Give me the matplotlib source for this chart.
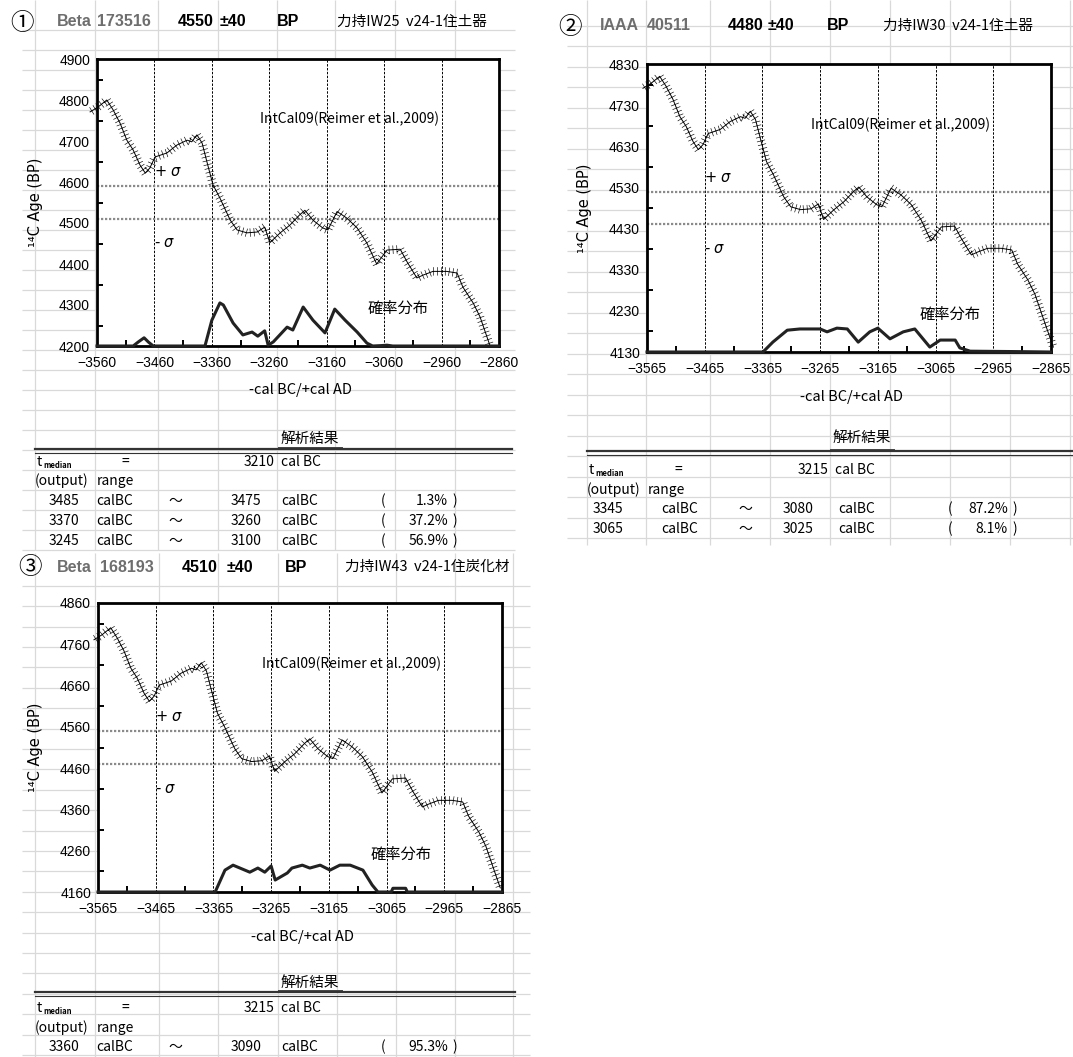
import numpy as np
import matplotlib
matplotlib.use('Agg')
import matplotlib.pyplot as plt
from matplotlib import patheffects as pe
from matplotlib import font_manager
from matplotlib.ticker import FixedLocator

W, H = 1073, 1057

# IntCal09 (Reimer et al., 2009): cal BC as negative years, 14C age BP
cal_year = [-3572, -3558, -3543, -3532, -3520, -3508, -3497, -3485, -3476, -3468,
            -3459, -3438, -3421, -3403, -3395, -3386, -3377, -3368, -3358, -3346,
            -3328, -3316, -3299, -3281, -3268, -3259, -3241, -3224, -3207, -3198,
            -3184, -3167, -3158, -3142, -3125, -3107, -3090, -3073, -3064, -3055,
            -3032, -3020, -3003, -2992, -2975, -2951, -2933, -2923, -2905, -2893,
            -2876, -2868, -2861]
cal_bp = [4771, 4783, 4800, 4776, 4744, 4702, 4678, 4641, 4622, 4634,
          4661, 4671, 4690, 4702, 4698, 4715, 4695, 4646, 4593, 4561,
          4507, 4483, 4476, 4478, 4490, 4452, 4476, 4495, 4520, 4531,
          4507, 4488, 4483, 4528, 4512, 4488, 4451, 4400, 4417, 4434,
          4436, 4405, 4366, 4373, 4382, 4382, 4378, 4344, 4305, 4271,
          4202, 4170, 4142]

# probability distributions (height above the baseline, in BP units of the chart)
prob1_year = [-3560, -3497, -3488, -3478, -3470, -3462, -3372, -3360, -3346, -3340,
              -3323, -3306, -3290, -3280, -3268, -3262, -3253, -3229, -3219, -3201,
              -3184, -3163, -3146, -3128, -3107, -3090, -3080, -3065, -3055, -3045, -2860]
prob1_h = [0, 0, 10, 20, 9, 0, 0, 63, 105, 100,
           56, 27, 34, 24, 37, 2, 10, 46, 39, 95,
           63, 32, 90, 63, 34, 7, 0, 1, 2, 0, 0]
prob2_year = [-3565, -3364, -3347, -3322, -3300, -3265, -3253, -3236, -3218, -3199, -3179,
              -3165, -3144, -3121, -3101, -3075, -3057, -3031, -3023, -3005, -2925, -2865]
prob2_h = [0, 0, 24, 53, 56, 56, 49, 58, 56, 24, 49,
           58, 32, 49, 56, 12, 29, 29, 10, 2, 1, 0]
prob3_year = [-3565, -3362, -3345, -3331, -3302, -3288, -3276, -3265, -3258, -3237,
              -3229, -3211, -3198, -3180, -3163, -3146, -3128, -3106, -3090, -3080,
              -3057, -3054, -3032, -3029, -2865]
prob3_h = [0, 0, 53, 65, 48, 58, 48, 63, 29, 46,
           58, 65, 58, 65, 53, 65, 65, 53, 17, 0,
           0, 9, 9, 0, 0]

# sample info
marks = ['①', '②', '③']
lab_name = ['Beta', 'IAAA', 'Beta']
lab_no = ['173516', '40511', '168193']
c14_age = [4550, 4480, 4510]
c14_err = [40, 40, 40]
sample_name = ['力持IW25  v24-1住土器', '力持IW30  v24-1住土器', '力持IW43  v24-1住炭化材']
x_left = [-3560, -3565, -3565]
y_low = [4200, 4130, 4160]
t_median = [3210, 3215, 3215]
range_from = [[3485, 3370, 3245], [3345, 3065], [3360]]
range_to = [[3475, 3260, 3100], [3080, 3025], [3090]]
range_pct = [['1.3%', '37.2%', '56.9%'], ['87.2%', '8.1%'], ['95.3%']]
prob_year = [prob1_year, prob2_year, prob3_year]
prob_h = [prob1_h, prob2_h, prob3_h]

# ---- layout (pixels) ----
ax_box = [(97, 59, 499, 346), (647, 64, 1051, 352), (98, 603, 502, 892)]
head_y = [22, 26, 567]
head_x = [  # mark, lab, no, age, err, BP, sample
    (22, 57, 97, 178, 220, 277, 337),
    (570, 600, 647, 728, 768, 827, 883),
    (30, 57, 100, 182, 227, 285, 345),
]
# table: title_y, dbl_y, tmed_y, output_y, first_row_y, line x0, x1
tab_y = [(439, 449, 462, 481, 501, 35, 512),
         (438, 451, 470, 490, 509, 587, 1073),
         (983, 992, 1008, 1028, 1047, 35, 515)]
# cols: t, '=', median right, 'cal BC', output, range, num1, calBC, wave, num2, calBC, '(', pct right, ')', title x
tab_x = [(37, 125, 275, 281, 35, 97, 64, 115, 175, 246, 300, 383, 448, 455, 310),
         (589, 678, 828, 835, 587, 648, 608, 680, 745, 798, 857, 950, 1008, 1015, 862),
         (37, 125, 275, 281, 35, 97, 64, 115, 175, 246, 300, 383, 448, 455, 310)]
sheets = [
    (22, 515, 0, 550, [35, 95, 158, 218, 277, 335, 395, 455], np.arange(30, 551, 20)),
    (567, 1073, 0, 545, [587, 646, 710, 770, 830, 890, 950, 1010, 1070], 538 - 20.5 * np.arange(26)),
    (22, 530, 553, 1057, [35, 95, 159, 218, 278, 337, 396, 455, 513], 1055 - 20.4 * np.arange(24)),
]

names = {f.name for f in font_manager.fontManager.ttflist}
NUM = ['Liberation Sans Narrow' if 'Liberation Sans Narrow' in names else 'Liberation Sans', 'DejaVu Sans']
JP = ['Noto Sans CJK JP', 'DejaVu Sans']
GRID = '#d9d9d9'

fig = plt.figure(figsize=(W / 100, H / 100), dpi=100)
bg = fig.add_axes([0, 0, 1, 1])
bg.set_xlim(0, W)
bg.set_ylim(H, 0)
bg.axis('off')

for x0, x1, y0, y1, cols, rows in sheets:
    bg.hlines(rows, x0, x1, color=GRID, lw=0.9)
    bg.vlines(cols, y0, y1, color=GRID, lw=0.9)


def put(x, y, s, **kw):
    kw.setdefault('family', JP)
    kw.setdefault('fontsize', 10)
    bg.text(x, y, s, va='center', **kw)


for i in range(3):
    # header row
    hx = head_x[i]
    hy = head_y[i]
    put(hx[0], hy + 1, marks[i], ha='center', fontsize=17)
    put(hx[1], hy, lab_name[i], family=NUM, fontsize=11.5, weight='bold', color='#6e6e6e')
    put(hx[2], hy, lab_no[i], family=NUM, fontsize=11.5, weight='bold', color='#6e6e6e')
    put(hx[3], hy, str(c14_age[i]), family=NUM, fontsize=11.5, weight='bold')
    put(hx[4], hy, f'±{c14_err[i]}', family=NUM, fontsize=11.5, weight='bold')
    put(hx[5], hy, 'BP', family=NUM, fontsize=11.5, weight='bold')
    put(hx[6], hy, sample_name[i], fontsize=10.5)

    # result table
    ty, dy, my, oy, ry, lx0, lx1 = tab_y[i]
    tx = tab_x[i]
    put(tx[14], ty, '解析結果', ha='center', fontsize=10.5)
    bg.plot([tx[14] - 32, tx[14] + 32], [dy - 2.5, dy - 2.5], color='#444444', lw=0.7)
    bg.plot([lx0, lx1], [dy, dy], color='#333333', lw=1.6)
    bg.plot([lx0, lx1], [dy + 3.5, dy + 3.5], color='#333333', lw=0.8)
    put(tx[0], my, 't', fontsize=10)
    put(tx[0] + 6, my + 3, 'median', fontsize=5.5, weight='bold')
    put(tx[1], my, '=', ha='center', fontsize=10)
    put(tx[2], my, str(t_median[i]), ha='right', fontsize=10)
    put(tx[3], my, 'cal BC', fontsize=10)
    put(tx[4], oy, '(output)', fontsize=10)
    put(tx[5], oy, 'range', fontsize=10)
    for k in range(len(range_from[i])):
        yy = ry + 20.2 * k
        put(tx[6], yy, str(range_from[i][k]), ha='center', fontsize=10)
        put(tx[7], yy, 'calBC', ha='center', fontsize=10)
        put(tx[8], yy, '〜', ha='center', fontsize=10)
        put(tx[9], yy, str(range_to[i][k]), ha='center', fontsize=10)
        put(tx[10], yy, 'calBC', ha='center', fontsize=10)
        put(tx[11], yy, '(', ha='center', fontsize=10)
        put(tx[12], yy, range_pct[i][k], ha='right', fontsize=10)
        put(tx[13], yy, ')', ha='center', fontsize=10)

    # chart
    x0, y0, x1, y1 = ax_box[i]
    ax = fig.add_axes([x0 / W, 1 - y1 / H, (x1 - x0) / W, (y1 - y0) / H])
    ax.set_facecolor('white')
    xl, yl = x_left[i], y_low[i]
    ax.set_xlim(xl, xl + 700)
    ax.set_ylim(yl, yl + 700)
    ax.xaxis.set_major_locator(FixedLocator(np.arange(xl, xl + 701, 100)))
    ax.xaxis.set_minor_locator(FixedLocator(np.arange(xl + 50, xl + 700, 100)))
    ax.yaxis.set_major_locator(FixedLocator(np.arange(yl, yl + 701, 100)))
    ax.yaxis.set_minor_locator(FixedLocator(np.arange(yl + 50, yl + 700, 100)))
    ax.tick_params(which='major', length=0, pad=5, labelsize=10)
    ax.tick_params(axis='x', which='major', pad=7)
    ax.tick_params(which='minor', direction='in', length=4, width=1.4)
    for lab in ax.get_xticklabels() + ax.get_yticklabels():
        lab.set_family(NUM)
    for sp in ax.spines.values():
        sp.set_linewidth(2)
    ax.grid(axis='x', which='major', color='black', lw=0.7, ls=(0, (2.5, 1.5)))

    ax.axhline(c14_age[i] + c14_err[i], color='#8a8a8a', lw=1.6, ls=(0, (1, 0.8)))
    ax.axhline(c14_age[i] - c14_err[i], color='#8a8a8a', lw=1.6, ls=(0, (1, 0.8)))

    cy = np.array(cal_year)
    cb = np.array(cal_bp)
    keep = cb >= yl - 5
    ax.plot(cy[keep], cb[keep], color='black', lw=0.7, clip_on=False, zorder=3,
            path_effects=[pe.Normal(),
                          pe.TickedStroke(angle=90, spacing=2.8, length=1.0, linewidth=0.45),
                          pe.TickedStroke(angle=-90, spacing=2.8, length=1.0, linewidth=0.45)])

    ax.plot(prob_year[i], yl + np.array(prob_h[i]), color='#222222', lw=2.2,
            clip_on=False, zorder=4, solid_joinstyle='round')

    ax.text(0.405, 0.79, 'IntCal09(Reimer et al.,2009)', transform=ax.transAxes,
            va='center', ha='left', fontsize=10, family=JP)
    ax.text(0.75, 0.132, '確率分布', transform=ax.transAxes, va='center', ha='center',
            fontsize=11, family=JP)
    ax.text(0.142, 0.607, r'+ $\sigma$', transform=ax.transAxes, va='center', ha='left',
            fontsize=10.5)
    ax.text(0.142, 0.359, r'- $\sigma$', transform=ax.transAxes, va='center', ha='left',
            fontsize=10.5)
    ax.text(-0.154, 0.5, '¹⁴C Age (BP)', transform=ax.transAxes, rotation=90,
            va='center', ha='center', fontsize=10.5, family=['DejaVu Sans'])
    ax.text(0.505, -0.155, '-cal BC/+cal AD', transform=ax.transAxes,
            va='center', ha='center', fontsize=10.5, family=JP)

fig.savefig('out.png', dpi=100)
